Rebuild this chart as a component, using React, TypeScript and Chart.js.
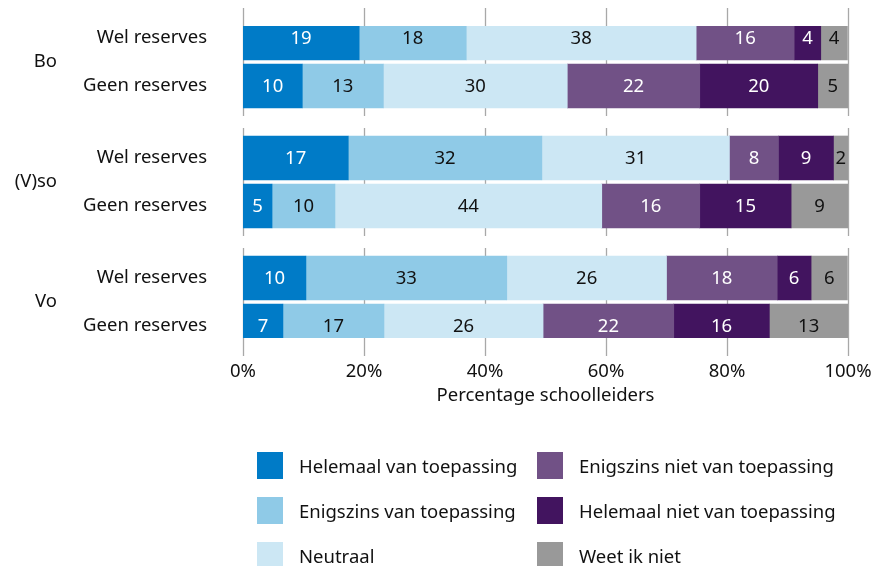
import React, { useEffect, useRef } from "react";
import { Chart, registerables } from "chart.js";

Chart.register(...registerables);

const groups = ["Bo", "(V)so", "Vo"];
const rowLabels = ["Wel reserves", "Geen reserves"];
const tickValues = [0, 20, 40, 60, 80, 100];

const seriesNames = [
  "Helemaal van toepassing",
  "Enigszins van toepassing",
  "Neutraal",
  "Enigszins niet van toepassing",
  "Helemaal niet van toepassing",
  "Weet ik niet",
];

// rows: Bo-Wel, Bo-Geen, (V)so-Wel, (V)so-Geen, Vo-Wel, Vo-Geen
const helemaal = [19.2, 9.8, 17.4, 4.8, 10.4, 6.6];
const enigszins = [17.7, 13.4, 32.0, 10.4, 33.2, 16.7];
const neutraal = [38.0, 30.4, 31.0, 44.1, 26.4, 26.3];
const enigszinsNiet = [16.2, 21.9, 8.1, 16.2, 18.3, 21.6];
const helemaalNiet = [4.4, 19.5, 9.1, 15.1, 5.6, 15.8];
const weetNiet = [4.4, 5.0, 2.4, 9.4, 6.0, 13.0];

const seriesValues = [helemaal, enigszins, neutraal, enigszinsNiet, helemaalNiet, weetNiet];
const colors = ["#007BC7", "#8FCAE7", "#CCE7F4", "#715186", "#42145F", "#999999"];
const labelColors = ["#ffffff", "#111111", "#111111", "#ffffff", "#ffffff", "#111111"];

const FONT = "'Noto Sans', sans-serif";
const FS = 18.5;

// layout: slots of equal height; rows 2 slots apart, groups 5 slots apart
const ROW_STEP = 2;
const GROUP_STEP = 5;
const slotCount = (groups.length - 1) * GROUP_STEP + (rowLabels.length - 1) * ROW_STEP + 1;
const slotOf = (g: number, r: number) => g * GROUP_STEP + r * ROW_STEP;

export default function App() {
  const ref = useRef<HTMLCanvasElement | null>(null);

  useEffect(() => {
    document.body.style.margin = "0";
    const canvas = ref.current;
    if (!canvas) return;

    const labels: string[] = new Array(slotCount).fill("");
    groups.forEach((_, g) =>
      rowLabels.forEach((rl, r) => {
        labels[slotOf(g, r)] = rl;
      })
    );

    const datasets = seriesValues.map((vals, si) => {
      const data: (number | null)[] = new Array(slotCount).fill(null);
      groups.forEach((_, g) =>
        rowLabels.forEach((__, r) => {
          data[slotOf(g, r)] = vals[g * rowLabels.length + r];
        })
      );
      return {
        label: seriesNames[si],
        data,
        backgroundColor: colors[si],
        borderWidth: 0,
        barThickness: 44,
      };
    });

    const groupGrid = {
      id: "groupGrid",
      beforeDatasetsDraw(chart: any) {
        const { ctx, scales } = chart;
        const x = scales.x;
        const y = scales.y;
        ctx.save();
        ctx.strokeStyle = "#a8a8a8";
        ctx.lineWidth = 1.3;
        groups.forEach((_, g) => {
          const top = y.getPixelForValue(slotOf(g, 0)) - 22 - 8;
          const bottom = y.getPixelForValue(slotOf(g, rowLabels.length - 1)) + 22 + 8;
          tickValues.forEach((v) => {
            const px = Math.round(x.getPixelForValue(v)) + 0.5;
            ctx.beginPath();
            ctx.moveTo(px, top);
            ctx.lineTo(px, bottom);
            ctx.stroke();
          });
        });
        ctx.restore();
      },
      afterDatasetsDraw(chart: any) {
        const { ctx, scales } = chart;
        const y = scales.y;
        ctx.save();
        ctx.font = `${FS}px ${FONT}`;
        ctx.textAlign = "center";
        ctx.textBaseline = "middle";
        chart.data.datasets.forEach((ds: any, di: number) => {
          const meta = chart.getDatasetMeta(di);
          meta.data.forEach((el: any, i: number) => {
            const v = ds.data[i];
            if (v == null) return;
            ctx.fillStyle = labelColors[di];
            ctx.fillText(String(Math.round(v)), (el.x + el.base) / 2, el.y + 1);
          });
        });
        ctx.fillStyle = "#111111";
        ctx.textAlign = "right";
        groups.forEach((name, g) => {
          const cy =
            (y.getPixelForValue(slotOf(g, 0)) +
              y.getPixelForValue(slotOf(g, rowLabels.length - 1))) /
            2;
          ctx.fillText(name, 57, cy);
        });
        ctx.restore();
      },
    };

    const chart = new Chart(canvas, {
      type: "bar",
      data: { labels, datasets },
      options: {
        indexAxis: "y",
        animation: false,
        responsive: false,
        devicePixelRatio: 1,
        layout: { padding: { top: 26, right: 42, bottom: 159, left: 0 } },
        plugins: { legend: { display: false }, tooltip: { enabled: false } },
        scales: {
          x: {
            stacked: true,
            min: 0,
            max: 100,
            grid: { display: false, drawTicks: false },
            border: { display: false },
            ticks: {
              stepSize: 20,
              padding: 23,
              color: "#111111",
              font: { family: FONT, size: FS },
              callback: (v: any) => v + "%",
            },
            title: {
              display: true,
              text: "Percentage schoolleiders",
              color: "#111111",
              font: { family: FONT, size: FS },
              padding: 0,
            },
            afterFit: (s: any) => {
              s.height = 69;
              s.paddingLeft = 0;
              s.paddingRight = 0;
            },
          },
          y: {
            stacked: true,
            grid: { display: false, drawTicks: false },
            border: { display: false },
            ticks: {
              autoSkip: false,
              padding: 36,
              color: "#111111",
              font: { family: FONT, size: FS },
            },
            afterFit: (s: any) => {
              s.width = 243;
              s.paddingTop = 0;
              s.paddingBottom = 0;
            },
          },
        },
      },
      plugins: [groupGrid],
    });

    return () => chart.destroy();
  }, []);

  const legendRows = 3;
  return (
    <div style={{ position: "fixed", left: 0, top: 0, width: 890, height: 566, background: "#fff", overflow: "hidden" }}>
      <canvas ref={ref} width={890} height={566} style={{ display: "block", width: 890, height: 566 }} />
      {seriesNames.map((name, i) => {
        const col = Math.floor(i / legendRows);
        const row = i % legendRows;
        const left = col === 0 ? 257 : 537;
        const top = 452 + row * 45;
        return (
          <div key={name} style={{ position: "absolute", left, top, height: 27, display: "flex", alignItems: "center" }}>
            <div style={{ width: 26, height: 27, background: colors[i], flex: "none" }} />
            <span style={{ marginLeft: 16, font: `${FS}px ${FONT}`, color: "#111111", whiteSpace: "nowrap" }}>{name}</span>
          </div>
        );
      })}
    </div>
  );
}
